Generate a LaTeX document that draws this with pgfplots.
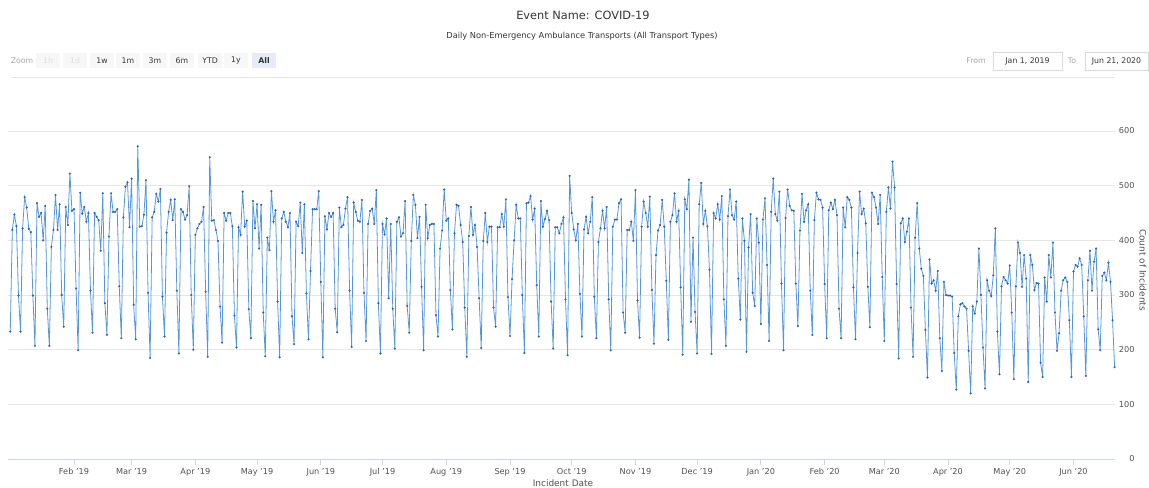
\documentclass[border=0pt]{standalone}
\usepackage{fontspec}
\setmainfont{DejaVu Sans}
\usepackage{pgfplots}
\pgfplotsset{compat=1.18}
\definecolor{gridc}{RGB}{230,230,230}
\definecolor{tickc}{RGB}{204,214,235}
\definecolor{linec}{RGB}{85,150,220}
\definecolor{markc}{RGB}{45,95,165}
\definecolor{txt}{RGB}{51,51,51}
\definecolor{lbl}{RGB}{80,80,80}
\definecolor{btn}{RGB}{247,247,247}
\definecolor{btnsel}{RGB}{230,235,245}
\begin{document}
\begin{tikzpicture}
\useasboundingbox (0,0) rectangle (1149bp,-488bp);
\begin{scope}[x=1bp,y=-1bp]
\node[font=\fontsize{11.4}{13}\selectfont, text=txt] at (583,15) {Event Name: COVID-19};
\node[font=\fontsize{8.3}{9}\selectfont, text=txt] at (582,36) {Daily Non-Emergency Ambulance Transports (All Transport Types)};
\node[font=\fontsize{7.8}{9}\selectfont, text=gray!70] at (22,60.5) {Zoom};
\foreach \x/\t/\c in {48/1h/gray!25,75/1d/gray!25,102/1w/txt,128/1m/txt,155/3m/txt,182/6m/txt,210/YTD/txt,236/1y/txt}{
  \fill[btn] (\x-12,53) rectangle (\x+12,68);
  \node[font=\fontsize{7.8}{9}\selectfont, text=\c] at (\x,60.5) {\t};
}
\fill[btnsel] (252,53) rectangle (276,68);
\node[font=\bfseries\fontsize{7.8}{9}\selectfont, text=txt] at (264,60.5) {All};
\node[font=\fontsize{7.8}{9}\selectfont, text=gray!70] at (976,61) {From};
\draw[gray!30, line width=0.6] (993,52) rectangle (1062,70);
\node[font=\fontsize{7.8}{9}\selectfont, text=txt] at (1027.5,61) {Jan 1, 2019};
\node[font=\fontsize{7.8}{9}\selectfont, text=gray!70] at (1072,61) {To};
\draw[gray!30, line width=0.6] (1085,52) rectangle (1148,70);
\node[font=\fontsize{7.8}{9}\selectfont, text=txt] at (1116.5,61) {Jun 21, 2020};
\draw[gridc, line width=0.8] (12,77) -- (1115,77);
\node[font=\fontsize{9}{10}\selectfont, text=lbl] at (563,483) {Incident Date};
\node[font=\fontsize{9}{10}\selectfont, text=lbl, rotate=-90] at (1143,270) {Count of Incidents};
\end{scope}
\begin{axis}[
  at={(8bp,-459bp)}, anchor=south west,
  scale only axis, width=1107bp, height=328bp,
  xmin=-1.1, xmax=537.2, ymin=0, ymax=600,
  axis x line*=bottom, axis y line*=right,
  x axis line style={draw=tickc, line width=0.8bp},
  y axis line style={draw=none},
  ymajorgrids, grid style={draw=gridc, line width=0.8bp},
  ytick={0,100,200,300,400,500,600},
  ytick style={draw=none},
  xtick={31,59,90,120,151,181,212,243,273,304,334,365,396,425,456,486,517},
  xticklabels={Feb '19,Mar '19,Apr '19,May '19,Jun '19,Jul '19,Aug '19,Sep '19,Oct '19,Nov '19,Dec '19,Jan '20,Feb '20,Mar '20,Apr '20,May '20,Jun '20},
  xtick style={draw=tickc, line width=0.8bp},
  tick align=outside, major tick length=6bp,
  /pgf/number format/assume math mode=true,
  ticklabel style={font=\fontsize{8.2}{9}\selectfont, text=lbl},
  yticklabel style={anchor=east, xshift=17bp},
]
\addplot[linec, line width=0.8bp, mark=*, mark size=0.95bp, mark options={fill=markc, draw=markc, line width=0.2bp}]
table[header=false, x expr=\coordindex, y index=0, row sep=\\] {
233\\419\\447\\426\\299\\233\\422\\
479\\460\\421\\415\\299\\207\\468\\
443\\450\\400\\463\\275\\207\\388\\
419\\483\\419\\466\\300\\242\\461\\
428\\522\\454\\457\\312\\199\\487\\
449\\461\\434\\450\\308\\231\\450\\
443\\437\\381\\486\\285\\227\\407\\
486\\452\\452\\457\\316\\221\\442\\
498\\506\\424\\513\\282\\219\\572\\
425\\426\\447\\510\\304\\185\\442\\
452\\485\\471\\494\\297\\224\\414\\
452\\474\\437\\475\\308\\193\\457\\
452\\438\\446\\499\\300\\200\\410\\
422\\430\\434\\461\\306\\187\\552\\
436\\437\\419\\399\\279\\213\\450\\
436\\450\\450\\426\\262\\204\\424\\
410\\489\\425\\436\\274\\221\\472\\
422\\466\\385\\465\\268\\188\\405\\
382\\490\\434\\455\\288\\186\\440\\
452\\434\\424\\450\\261\\210\\434\\
426\\469\\377\\466\\303\\219\\344\\
457\\457\\457\\490\\324\\186\\444\\
420\\450\\443\\450\\275\\232\\460\\
424\\428\\458\\479\\308\\205\\469\\
452\\436\\434\\474\\304\\216\\430\\
454\\458\\430\\492\\285\\193\\430\\
411\\440\\294\\430\\275\\202\\434\\
442\\407\\413\\472\\280\\231\\399\\
483\\465\\404\\443\\315\\199\\465\\
404\\428\\430\\430\\263\\224\\385\\
418\\493\\436\\440\\309\\237\\413\\
465\\463\\428\\397\\277\\187\\408\\
461\\410\\428\\388\\294\\203\\399\\
450\\397\\425\\425\\277\\242\\424\\
424\\448\\425\\475\\296\\225\\329\\
400\\465\\440\\440\\300\\194\\468\\
469\\481\\438\\458\\318\\224\\472\\
425\\439\\454\\437\\288\\202\\424\\
424\\413\\430\\442\\292\\190\\518\\
450\\420\\400\\430\\302\\224\\420\\
443\\413\\434\\479\\297\\221\\397\\
422\\454\\422\\461\\292\\199\\425\\
438\\438\\468\\475\\268\\231\\419\\
419\\434\\399\\492\\290\\222\\425\\
471\\450\\425\\480\\309\\211\\373\\
418\\428\\474\\425\\326\\218\\434\\
446\\486\\434\\454\\314\\191\\475\\
457\\511\\251\\405\\269\\193\\466\\
505\\430\\454\\426\\346\\192\\450\\
440\\466\\438\\481\\292\\207\\444\\
493\\446\\438\\471\\330\\255\\440\\
399\\196\\387\\448\\304\\280\\440\\
396\\247\\438\\477\\355\\216\\452\\
513\\448\\436\\489\\321\\199\\441\\
493\\463\\455\\454\\321\\243\\418\\
485\\434\\455\\466\\308\\227\\437\\
487\\475\\474\\460\\320\\221\\455\\
469\\457\\474\\446\\275\\221\\460\\
424\\479\\474\\460\\314\\219\\377\\
489\\448\\458\\431\\315\\241\\487\\
479\\460\\430\\483\\333\\216\\452\\
497\\458\\544\\497\\320\\184\\431\\
440\\397\\416\\440\\277\\187\\405\\
468\\385\\348\\335\\236\\149\\365\\
321\\327\\308\\344\\221\\161\\324\\
300\\299\\299\\297\\194\\127\\261\\
283\\285\\279\\275\\198\\120\\279\\
266\\288\\385\\300\\204\\129\\327\\
308\\298\\336\\422\\233\\155\\316\\
333\\327\\321\\354\\268\\146\\316\\
396\\377\\315\\373\\330\\141\\373\\
355\\309\\322\\321\\176\\150\\332\\
288\\373\\332\\396\\268\\198\\230\\
308\\327\\332\\324\\254\\150\\343\\
355\\352\\367\\355\\261\\152\\327\\
381\\308\\361\\385\\237\\199\\335\\
341\\327\\359\\324\\254\\168\\
};
\end{axis}
\end{tikzpicture}
\end{document}
